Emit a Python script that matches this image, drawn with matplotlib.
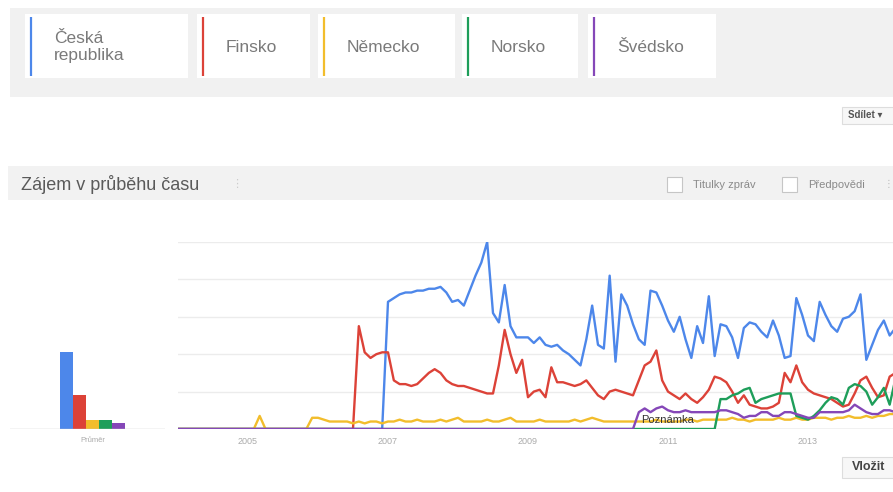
import matplotlib
matplotlib.use("Agg")
import matplotlib.pyplot as plt
from matplotlib.patches import Rectangle
import numpy as np

plt.rcParams['font.family'] = ['Liberation Sans', 'DejaVu Sans']

# --- data (monthly, Jan 2004 .. Apr 2014) ---
names = ['Česká\nrepublika', 'Finsko', 'Německo', 'Norsko', 'Švédsko']
colors = ['#4d87ea', '#dc4238', '#f2bd2c', '#1e9e5a', '#8547b8']
averages = [41, 18, 5, 5, 3]

cz = [0]*36 + [68, 70, 72, 73, 73, 74, 74, 75, 75, 76,
               73, 68, 69, 66, 74, 82, 89, 100, 62, 57,
               77, 55, 49, 49, 49, 46, 49, 45, 44, 45,
               42, 40, 37, 34, 48, 66, 45, 43, 82, 36,
               72, 66, 56, 48, 45, 74, 73, 66, 58, 52,
               60, 48, 38, 55, 46, 71, 39, 56, 55, 49,
               38, 54, 57, 56, 52, 49, 58, 50, 38, 39,
               70, 61, 50, 47, 68, 61, 55, 52, 59, 60,
               63, 72, 37, 45, 53, 58, 50, 54]
fi = [0]*31 + [55, 41, 38, 40, 41, 41, 26, 24, 24, 23,
               24, 27, 30, 32, 30, 26, 24, 23, 23, 22,
               21, 20, 19, 19, 34, 53, 40, 30, 37, 17,
               20, 21, 17, 33, 25, 25, 24, 23, 24, 26,
               22, 18, 16, 20, 21, 20, 19, 18, 26, 34,
               36, 42, 26, 20, 18, 16, 19, 16, 14, 17,
               21, 28, 27, 25, 20, 14, 18, 13, 12, 11,
               11, 12, 14, 30, 25, 34, 25, 21, 19, 18,
               17, 16, 14, 12, 13, 19, 26, 28, 22, 17,
               18, 28, 30]
de = [0]*14 + [7] + [0]*8 + [6, 6, 5, 4, 4, 4, 4, 3, 4, 3,
                             4, 4, 3, 4, 4, 5, 4, 4, 5, 4,
                             4, 4, 5, 4, 5, 6, 4, 4, 4, 4,
                             5, 4, 4, 5, 6, 4, 4, 4, 4, 5,
                             4, 4, 4, 4, 4, 5, 4, 5, 6, 5,
                             4, 4, 4, 4, 4, 4, 4, 4, 4, 5,
                             4, 4, 4, 4, 5, 5, 4, 5, 5, 5,
                             5, 5, 6, 5, 5, 4, 5, 5, 5, 5,
                             6, 5, 5, 6, 5, 5, 6, 6, 6, 5,
                             6, 6, 7, 6, 6, 7, 6, 7, 7, 8, 8]
no = [0]*93 + [16, 16, 18, 19, 21, 22, 14, 16, 17, 18,
               19, 19, 19, 7, 6, 5, 7, 10, 14, 17,
               16, 13, 22, 24, 23, 20, 13, 17, 22, 13, 27]
se = [0]*79 + [9, 11, 9, 11, 12, 10, 9, 9, 10, 9,
               9, 9, 9, 9, 10, 10, 9, 8, 6, 7,
               7, 9, 9, 7, 7, 9, 9, 8, 7, 6,
               6, 9, 9, 9, 9, 9, 10, 13, 11, 9,
               8, 8, 10, 10, 9]
series = [cz, fi, de, no, se]
year_ticks = [2005, 2007, 2009, 2011, 2013]

W, H = 893, 492
fig = plt.figure(figsize=(W/100, H/100), dpi=100)
fig.patch.set_facecolor('white')

def px_axes(x0, y0, x1, y1, **kw):
    return fig.add_axes([x0/W, 1 - y1/H, (x1-x0)/W, (y1-y0)/H], **kw)

# overlay in pixel coords for page chrome
bg = px_axes(0, 0, W, H)
bg.set_xlim(0, W)
bg.set_ylim(H, 0)
bg.axis('off')
bg.set_zorder(0)

bg.add_patch(Rectangle((10, 8), W - 10, 89, color='#f1f1f1', lw=0))
boxes = [(25, 188), (197, 310), (318, 455), (462, 578), (588, 716)]
for (x0, x1), name, c in zip(boxes, names, colors):
    bg.add_patch(Rectangle((x0, 14), x1 - x0, 64, color='white', lw=0))
    bg.plot([x0 + 6, x0 + 6], [17, 76], color=c, lw=1.6, solid_capstyle='butt')
    bg.text(x0 + 29, 47, name, fontsize=12.5, color='#7a7a7a', va='center',
            ha='left', linespacing=1.15)

# share button
bg.add_patch(Rectangle((842, 107), 53, 17, facecolor='#f7f7f7',
                       edgecolor='#dddddd', lw=0.8))
bg.text(848, 115.5, 'Sdílet ▾', fontsize=7, color='#555', va='center',
        fontweight='bold')

# section header
bg.add_patch(Rectangle((8, 166), W - 8, 34, color='#f2f2f2', lw=0))
bg.text(21, 184, 'Zájem v průběhu času', fontsize=13, color='#5a5a5a',
        va='center')
bg.text(231, 184, '⋮', fontsize=8, color='#cccccc', va='center')
for cx, label in [(667, 'Titulky zpráv'), (782, 'Předpovědi')]:
    bg.add_patch(Rectangle((cx, 177), 15, 15, facecolor='white',
                           edgecolor='#c6c6c6', lw=0.8))
    bg.text(cx + 26, 184.5, label, fontsize=8, color='#8a8a8a', va='center')
bg.text(884, 184.5, '⋮', fontsize=7, color='#bbbbbb', va='center')

# embed button
bg.add_patch(Rectangle((842, 457), 53, 21, facecolor='#f7f7f7',
                       edgecolor='#dddddd', lw=0.8))
bg.text(852, 467.5, 'Vložit', fontsize=9, color='#444', va='center',
        fontweight='bold')

# averages bars
axb = px_axes(10, 242, 165, 429)
axb.patch.set_alpha(0)
axb.set_zorder(2)
idx = np.arange(len(averages))
axb.bar(idx, averages, width=1.0, color=colors, lw=0)
axb.axhline(0, color='#c8c8c8', lw=1)
axb.set_xlim(-4.35, 7.58)
axb.set_ylim(0, 100)
axb.set_yticks([])
axb.set_xticks([2])
axb.set_xticklabels(['Průměr'], fontsize=5.5, color='#aaa')
axb.tick_params(length=0, pad=6)
for s in axb.spines.values():
    s.set_visible(False)

# main timeline
ax = px_axes(178, 242, W, 429)
ax.patch.set_alpha(0)
ax.set_zorder(2)
months = np.arange(len(cz))
x = 2004 + months / 12
ax.set_yticks([0, 20, 40, 60, 80, 100])
ax.yaxis.grid(True, color='#ececec', lw=1)
ax.set_axisbelow(True)
ax.axhline(0, color='#c8c8c8', lw=1)
for vals, c in zip(series, colors):
    ax.plot(x, vals, color=c, lw=1.7, solid_joinstyle='round')
ax.text(2010.62, 4.8, 'Poznámka', fontsize=8, color='#333', va='center')
ax.set_xlim(2004.0, 2004 + 715/70)
ax.set_ylim(0, 100)
ax.set_yticklabels([])
ax.set_xticks(year_ticks)
ax.set_xticklabels([str(y) for y in year_ticks], fontsize=6.5, color='#aaa')
ax.tick_params(length=0, pad=6)
for s in ax.spines.values():
    s.set_visible(False)

fig.savefig('out.png', dpi=100)
